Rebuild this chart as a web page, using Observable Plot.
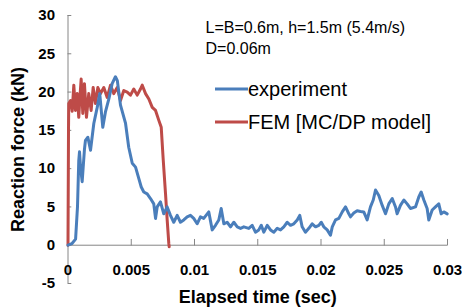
<!DOCTYPE html>
<html>
<head>
<meta charset="utf-8">
<script src="https://cdn.jsdelivr.net/npm/d3@7"></script>
<script src="https://cdn.jsdelivr.net/npm/@observablehq/plot@0.6"></script>
<style>
  html, body { margin: 0; padding: 0; background: #fff; }
  #chart { width: 462px; height: 307px; }
</style>
</head>
<body>
<div id="chart"></div>
<script>
// ---- data (time in seconds, force in kN) ----
const expT = [0, 0.0003, 0.0006, 0.00075, 0.00085, 0.00091, 0.001, 0.00112, 0.0013, 0.00138, 0.00157, 0.00178, 0.00204, 0.00231, 0.00251, 0.00275, 0.00296, 0.00323, 0.00349, 0.00375, 0.0039, 0.00415, 0.00455, 0.0048, 0.00508, 0.00534, 0.0056, 0.00579, 0.00599, 0.00626, 0.00652, 0.00678, 0.00692, 0.00705, 0.00731, 0.00757, 0.00784, 0.0081, 0.00836, 0.00863, 0.00889, 0.00915, 0.00942, 0.00968, 0.00994, 0.01021, 0.01047, 0.01073, 0.01113, 0.0114, 0.01166, 0.01192, 0.01211, 0.01232, 0.01258, 0.01285, 0.01311, 0.01338, 0.01364, 0.0139, 0.01429, 0.01456, 0.01482, 0.01508, 0.01528, 0.01548, 0.01575, 0.01601, 0.01627, 0.01654, 0.0168, 0.01706, 0.01733, 0.01759, 0.01785, 0.01812, 0.01832, 0.01851, 0.01877, 0.01904, 0.0193, 0.01957, 0.01983, 0.02002, 0.02022, 0.02049, 0.02075, 0.02089, 0.02115, 0.02141, 0.02168, 0.02194, 0.0222, 0.02233, 0.02259, 0.02286, 0.02312, 0.02338, 0.02365, 0.02391, 0.02413, 0.02431, 0.02457, 0.02484, 0.0251, 0.02536, 0.02563, 0.02589, 0.02602, 0.02628, 0.02655, 0.02681, 0.02707, 0.02747, 0.02773, 0.02792, 0.02813, 0.02839, 0.02852, 0.02879, 0.02905, 0.02931, 0.0295, 0.02971, 0.02998];
const expF = [0, 0.2, 0.8, 5, 11, 12.2, 10, 8.3, 12.5, 13.7, 14.1, 12.4, 15.9, 18, 19.8, 15.4, 17.4, 19.1, 21.1, 22.0, 21.5, 18.3, 15.9, 12.8, 10.7, 10.2, 8.7, 7.6, 6.95, 6.7, 6.1, 5.4, 3.5, 5.0, 5.65, 4.1, 5.0, 3.9, 3.0, 3.9, 3.0, 3.3, 3.7, 3.9, 3.5, 2.8, 3.7, 3.5, 4.35, 2.0, 2.6, 3.3, 4.8, 2.8, 3.0, 2.4, 3.0, 2.4, 2.2, 2.4, 2.2, 2.6, 1.7, 2.0, 2.6, 1.7, 2.6, 2.0, 1.7, 2.2, 2.0, 2.4, 3.0, 2.6, 2.8, 3.3, 3.9, 2.4, 1.7, 2.2, 2.8, 2.4, 2.6, 3.0, 2.4, 2.0, 1.3, 2.4, 3.3, 3.5, 4.35, 5.0, 4.1, 3.7, 4.2, 4.5, 4.4, 4.35, 3.3, 5.0, 5.9, 7.2, 6.5, 5.2, 4.1, 5.4, 6.1, 5.0, 4.1, 5.2, 5.9, 5.4, 4.8, 5.0, 6.3, 6.95, 5.9, 4.8, 3.3, 4.6, 5.0, 5.4, 4.1, 4.35, 4.1];

const femT = [0, 0.00004, 0.00006, 0.0002, 0.00033, 0.00046, 0.00059, 0.00073, 0.00085, 0.00095, 0.00104, 0.00117, 0.0013, 0.00146, 0.00164, 0.00183, 0.00199, 0.00217, 0.00236, 0.00257, 0.00283, 0.0031, 0.00336, 0.00362, 0.00389, 0.00415, 0.00441, 0.00468, 0.00494, 0.0052, 0.00547, 0.00573, 0.00587, 0.00613, 0.00639, 0.00666, 0.00692, 0.00718, 0.00737, 0.00753, 0.00771, 0.00784, 0.00797, 0.008];
const femF = [0, 15, 18.5, 18.9, 17.5, 20.9, 17.6, 19.8, 16.7, 19.5, 21.7, 17.2, 21.1, 16.7, 19.8, 17.6, 20.6, 18.5, 20.6, 19.8, 20.6, 19.3, 20.9, 19.8, 20.6, 18.9, 20.2, 20.0, 19.6, 20.4, 19.6, 20.4, 20.9, 19.8, 19.1, 18.0, 17.6, 16.3, 15.4, 11.1, 6.7, 3.3, 0.2, -0.2];

const xTicks = [0, 0.005, 0.01, 0.015, 0.02, 0.025, 0.03];
const xTickLabels = ["0", "0.005", "0.01", "0.015", "0.02", "0.025", "0.03"];
const yTicks = [-5, 0, 5, 10, 15, 20, 25, 30];
const yTickLabels = ["-5", "0", "5", "10", "15", "20", "25", "30"];

const seriesNames = ["experiment", "FEM [MC/DP model]"];
const seriesColors = ["#4a7ebb", "#be4b48"];
const xTitle = "Elapsed time (sec)";
const yTitle = "Reaction force (kN)";
const noteLines = ["L=B=0.6m, h=1.5m (5.4m/s)", "D=0.06m"];

// ---- build ----
const expData = expT.map((t, i) => ({t, f: expF[i]}));
const femData = femT.map((t, i) => ({t, f: femF[i]}));
const axisColor = "#868686";
const font = "'Liberation Sans', Arial, sans-serif";

const chart = Plot.plot({
  width: 462,
  height: 307,
  marginLeft: 67.5,
  marginRight: 15,
  marginTop: 15,
  marginBottom: 24,
  x: {domain: [0, 0.03], axis: null},
  y: {domain: [-5, 30], axis: null},
  style: {fontFamily: font, background: "#fff", color: "#000", overflow: "visible"},
  marks: [
    Plot.ruleY([0], {stroke: axisColor, strokeWidth: 1}),
    Plot.ruleX([0], {stroke: axisColor, strokeWidth: 1}),
    Plot.ruleY(yTicks, {y: d => d, x1: () => 0, x2: () => 0.0003, stroke: axisColor}),
    Plot.ruleX(xTicks, {x: d => d, y1: () => -0.1, y2: () => 0.75, stroke: axisColor}),
    Plot.text(yTicks, {x: () => 0, y: d => d, text: (d, i) => yTickLabels[i], dx: -13, textAnchor: "end", fontSize: 15, fontWeight: "bold", fill: "#000"}),
    Plot.text(xTicks, {x: d => d, y: () => -3.3, text: (d, i) => xTickLabels[i], fontSize: 15, fontWeight: "bold", fill: "#000"}),
    Plot.line(femData, {x: "t", y: "f", stroke: seriesColors[1], strokeWidth: 3, strokeLinejoin: "round"}),
    Plot.line(expData, {x: "t", y: "f", stroke: seriesColors[0], strokeWidth: 3, strokeLinejoin: "round"}),
    Plot.text([xTitle], {frameAnchor: "bottom", dy: 14, lineAnchor: "middle", textAnchor: "middle", fontSize: 18, fontWeight: "bold", fill: "#000"}),
    Plot.text([yTitle], {frameAnchor: "left", dx: -49.5, rotate: -90, lineAnchor: "middle", textAnchor: "middle", fontSize: 18, fontWeight: "bold", fill: "#000"}),
    Plot.text([noteLines[0]], {frameAnchor: "top-left", dx: 137.5, dy: 12, lineAnchor: "middle", textAnchor: "start", fontSize: 16, fill: "#000"}),
    Plot.text([noteLines[1]], {frameAnchor: "top-left", dx: 137.5, dy: 33, lineAnchor: "middle", textAnchor: "start", fontSize: 16, fill: "#000"})
  ]
});

// legend (swatches + labels) appended into the same SVG
const svg = d3.select(chart);
const legendY = [89, 122];
seriesNames.forEach((name, i) => {
  const g = svg.append("g");
  g.append("line").attr("x1", 215).attr("x2", 248).attr("y1", legendY[i]).attr("y2", legendY[i])
    .attr("stroke", seriesColors[i]).attr("stroke-width", 3);
  g.append("text").attr("x", 248).attr("y", legendY[i]).attr("dy", "0.35em")
    .attr("text-anchor", "start")
    .attr("font-family", font).attr("font-size", 20).attr("fill", "#000").text(name);
});

document.getElementById("chart").appendChild(chart);
</script>
</body>
</html>
